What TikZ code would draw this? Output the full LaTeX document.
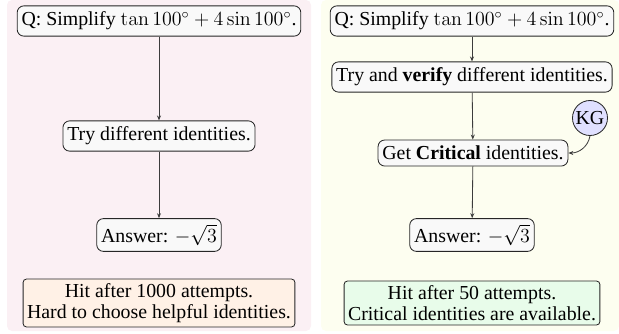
\documentclass[tikz,border=0pt]{standalone}
\usepackage[no-math]{fontspec}
\setmainfont{Liberation Serif}
\usetikzlibrary{arrows.meta}
\definecolor{pinkbg}{RGB}{251,240,244}
\definecolor{yellowbg}{RGB}{253,254,240}
\definecolor{nodefill}{RGB}{249,249,249}
\definecolor{peach}{RGB}{255,241,230}
\definecolor{mint}{RGB}{232,252,234}
\definecolor{lav}{RGB}{224,224,255}
\definecolor{edgecol}{RGB}{60,60,60}
\begin{document}
\begin{tikzpicture}[x=0.6pt,y=-0.6pt,
  stepbox/.style={draw=black!85,fill=nodefill,rounded corners=4pt,inner xsep=2.6pt,inner ysep=3.6pt,font=\fontsize{11.9}{14}\selectfont,line width=0.5pt},
  notebox/.style={draw=black!85,rounded corners=2pt,inner sep=2.4pt,align=center,font=\fontsize{11.9}{13}\selectfont,line width=0.5pt},
  flow/.style={-{Stealth[length=3pt,width=2.4pt]},draw=edgecol,line width=0.5pt}]
\useasboundingbox (0,0) rectangle (619,333);
\fill[pinkbg,rounded corners=3pt] (7,0) rectangle (311,331);
\fill[yellowbg,rounded corners=3pt] (321,0) rectangle (619,331);
% left
\node[stepbox] (lq) at (159,21) {Q: Simplify $\tan 100^\circ + 4\sin 100^\circ$.};
\node[stepbox] (lt) at (159,136) {Try different identities.};
\node[stepbox] (la) at (159,235) {Answer: $-\sqrt{3}$};
\node[notebox,fill=peach] (ln) at (159,303) {Hit after 1000 attempts.\\Hard to choose helpful identities.};
\draw[flow] (lq) -- (lt);
\draw[flow] (lt) -- (la);
% right
\node[stepbox] (rq) at (472,21) {Q: Simplify $\tan 100^\circ + 4\sin 100^\circ$.};
\node[stepbox] (rv) at (472,77) {Try and \textbf{verify} different identities.};
\node[stepbox] (rc) at (473,153) {Get \textbf{Critical} identities.};
\node[stepbox] (ra) at (472,235) {Answer: $-\sqrt{3}$};
\node[notebox,fill=mint] (rn) at (472,303) {Hit after 50 attempts.\\Critical identities are available.};
\node[circle,draw=black!85,fill=lav,inner sep=0.5pt,minimum size=21pt,font=\fontsize{11.9}{14}\selectfont,line width=0.5pt] (kg) at (590,118) {KG};
\draw[flow] (rq) -- (rv);
\draw[flow] (rv) -- (rc);
\draw[flow] (rc) -- (ra);
\draw[flow] (kg.south) to[out=-100,in=0] (rc.east);
\end{tikzpicture}
\end{document}
